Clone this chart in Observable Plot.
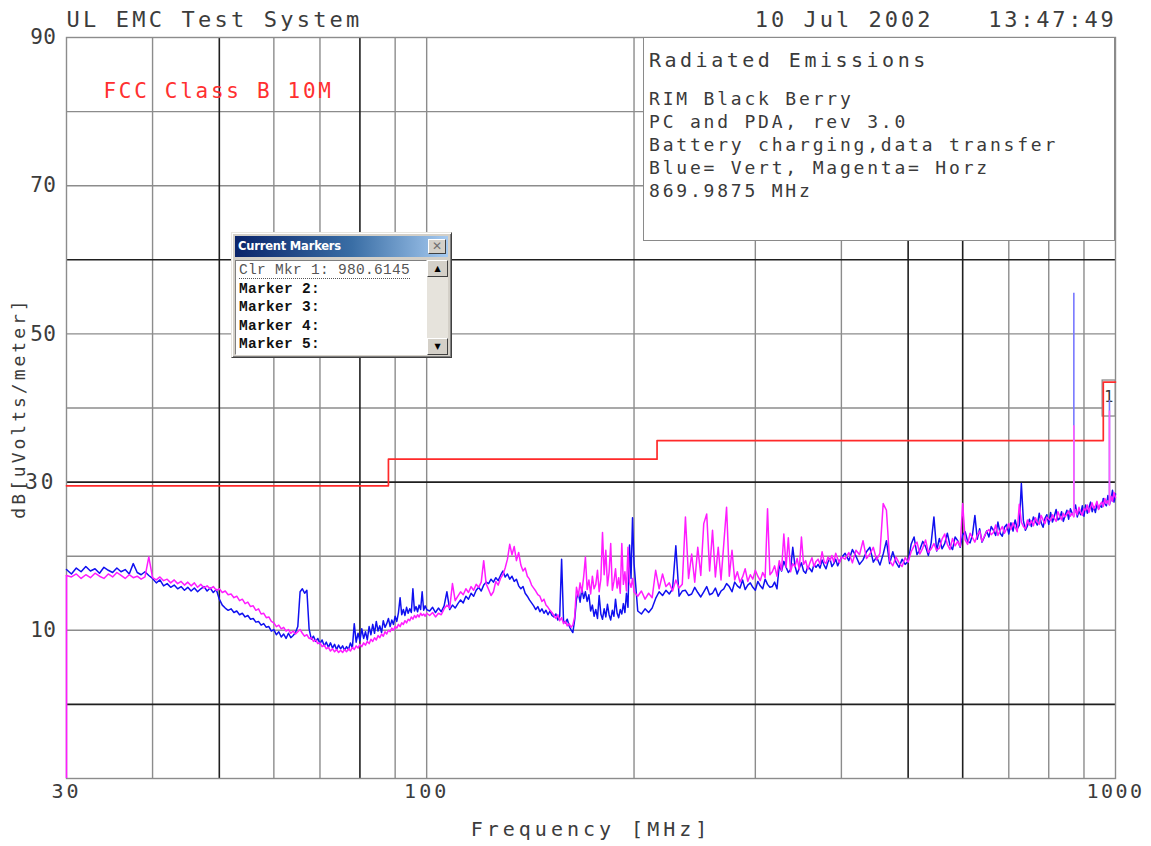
<!DOCTYPE html>
<html>
<head>
<meta charset="utf-8">
<script src="https://cdn.jsdelivr.net/npm/d3@7"></script>
<script src="https://cdn.jsdelivr.net/npm/@observablehq/plot@0.6"></script>
<style>
  html, body { margin: 0; padding: 0; background: #fff; }
  #wrap { position: relative; width: 1151px; height: 846px; overflow: hidden; background: #fff; }
  #chart { position: absolute; left: 0; top: 0; }
  .mono { font-family: "DejaVu Sans Mono", monospace; color: #3a3a3a; }
  #info { position: absolute; left: 643px; top: 37px; width: 472px; height: 204px;
          border: 1.4px solid #8a8a8a; background: #fff; box-sizing: border-box; }
  #info div { position: absolute; left: 5px; white-space: pre; line-height: 1; }
  #info .head { font-size: 20px; letter-spacing: 3.5px; }
  #info .ln { font-size: 18px; letter-spacing: 2.8px; }
  #mk { position: absolute; left: 231px; top: 232px; width: 221px; height: 126px; box-sizing: border-box;
        background: #d4d0c8; border: 1px solid; border-color: #e8e6e0 #404040 #404040 #e8e6e0;
        box-shadow: inset 1px 1px 0 #fff, inset -1px -1px 0 #808080; }
  #mk .tb { position: absolute; left: 3px; top: 3px; width: 213px; height: 21px;
            background: linear-gradient(to right, #0a246a, #3a6ea5 55%, #a6caf0); }
  #mk .tb span { position: absolute; left: 3px; top: 3px; font: bold 11.5px "DejaVu Sans", sans-serif; color: #fff; letter-spacing: -0.2px; }
  #mk .cls { position: absolute; right: 2px; top: 3px; width: 18px; height: 15px; background: #d4d0c8; box-sizing: border-box;
             border: 1px solid; border-color: #fff #404040 #404040 #fff; font: bold 12px "DejaVu Sans", sans-serif;
             color: #707070; text-align: center; line-height: 13px; }
  #mk .list { position: absolute; left: 3px; top: 27px; width: 192px; height: 95px; background: #fff; box-sizing: border-box;
              border: 1px solid; border-color: #808080 #fff #fff #808080; }
  #mk .row { position: absolute; left: 3px; font: bold 14.5px "Liberation Mono", monospace; color: #111; white-space: pre; line-height: 1; letter-spacing: 0.3px; }
  #mk .row.sel { font-weight: normal; color: #555; border-bottom: 1px dotted #555; }
  #mk .sb { position: absolute; left: 195px; top: 27px; width: 21px; height: 95px; background: #e6e3dc; }
  #mk .btn { position: absolute; left: 0; width: 21px; height: 17px; background: #d4d0c8; box-sizing: border-box;
             border: 1px solid; border-color: #fff #404040 #404040 #fff; font: 8px "DejaVu Sans", sans-serif; color: #000;
             text-align: center; line-height: 15px; }
</style>
</head>
<body>
<div id="wrap">
  <div id="chart"></div>
</div>
<script>
// ---------------- data ----------------
// sweep frequency grids of the receiver (MHz)
const sweepA = d3.range(30, 100.001, 0.5);    // 141 points
const sweepB = d3.range(101, 200.001, 1);     // 100 points
const sweepC = d3.range(202.5, 400.001, 2.5); // 80 points
const sweepD = d3.range(405, 1000.001, 5);    // 120 points

// Vertical polarisation (blue), dBuV/m
const vertA = [
  18.2,17.6,18.4,17.9,18.6,18.0,18.3,17.7,18.5,18.1,17.8,18.4,17.9,18.2,17.6,19.0,17.8,17.5,17.9,17.4,
  17.0,16.4,16.8,16.0,16.3,15.8,16.1,15.6,15.9,15.4,15.8,15.3,15.7,15.2,15.6,15.9,15.3,15.7,15.1,15.5,
  14.2,13.4,13.0,12.7,12.9,12.4,12.6,12.1,12.3,11.8,12.0,11.5,11.6,11.1,11.2,10.7,10.9,10.4,10.5,9.9,
  10.1,9.4,9.8,9.1,9.5,8.9,9.6,9.0,9.3,9.7,10.5,15.2,15.6,15.0,15.4,10.2,8.8,9.2,8.5,8.9,
  8.2,8.7,7.9,8.4,7.7,8.3,7.6,8.1,7.4,8.0,7.5,7.9,7.3,7.8,7.4,8.3,7.6,10.9,8.4,9.6,
  8.6,10.2,8.9,9.8,8.7,10.5,9.4,10.8,9.6,11.2,9.9,10.6,9.7,11.3,10.4,10.9,11.6,10.5,11.4,10.8,
  11.9,11.2,12.4,14.4,12.1,12.8,12.0,13.1,12.3,12.9,12.4,15.6,12.6,13.2,12.5,13.4,12.8,15.2,12.7,13.3,
  12.8
];
const vertB = [
  12.6,13.1,12.4,13.0,12.5,13.3,15.2,12.8,13.4,13.0,
  13.6,14.1,13.7,14.6,14.2,15.0,14.6,15.4,15.8,15.3,16.1,16.5,
  16.3,16.9,16.5,17.1,16.7,17.4,18.0,17.2,17.6,16.9,17.3,16.6,16.9,
  16.0,15.6,15.9,15.0,14.6,14.1,13.7,
  13.3,12.8,13.2,12.5,12.9,12.3,12.7,12.1,12.6,12.0,
  11.8,12.2,11.4,11.9,19.6,11.3,11.0,11.5,10.6,10.1,9.7,11.4,
  14.2,15.1,13.8,15.6,14.3,15.2,13.9,14.8,
  12.6,13.4,11.9,12.8,11.6,14.7,12.2,11.5,12.9,11.8,13.5,12.1,11.4,12.7,11.9,14.2,12.3,11.7,12.8,12.2,13.6,12.4,15.0,13.1,
  21.5,17.0,25.2,19.0
];
const vertC = [
  12.6,12.2,12.9,12.4,13.0,
  14.3,15.2,14.7,15.4,14.9,15.6,21.4,14.6,15.3,
  15.4,14.7,14.9,15.8,15.1,14.5,15.2,15.9,14.8,15.0,15.7,14.6,15.3,
  15.6,16.3,15.9,15.2,16.5,16.0,15.7,16.8,15.5,16.1,16.4,15.8,15.4,16.6,16.0,15.6,16.9,16.2,15.8,
  15.9,16.5,15.6,18.8,18.0,19.3,18.5,17.8,18.2,21.2,18.7,17.6,18.4,19.1,18.0,17.7,18.6,18.3,17.9,18.9,18.5,
  18.9,18.4,19.5,18.8,18.3,19.2,19.7,18.6,19.0,19.6,18.7,19.3,19.8
];
const vertD = [
  20.4,19.4,20.9,20.0,18.9,19.5,20.6,21.2,19.2,19.9,
  18.8,20.3,22.1,19.0,20.6,19.2,18.5,19.6,18.9,19.3,
  21.6,22.6,20.2,20.9,22.0,21.3,20.1,21.8,25.3,20.7,
  22.4,21.0,21.7,23.1,21.5,20.9,22.6,22.1,21.2,22.9,
  23.3,22.0,21.8,22.9,25.5,22.3,23.7,21.9,22.6,23.4,
  22.6,24.0,23.5,22.8,24.6,23.1,22.7,23.9,24.3,23.0,
  24.5,23.4,24.9,23.7,24.2,29.8,24.8,23.5,24.1,25.0,
  24.0,25.3,24.7,24.2,25.8,24.5,23.9,25.1,25.6,24.3,
  25.9,24.6,25.4,26.3,24.9,25.1,26.0,24.7,25.5,26.2,
  25.0,26.4,25.8,25.5,26.9,25.3,26.1,25.6,26.8,25.4,
  26.9,25.8,26.5,27.3,26.0,26.7,25.9,27.1,26.4,26.8,
  26.6,27.8,27.1,26.8,28.2,27.0,27.6,28.9,27.3,28.4
];

// Horizontal polarisation (magenta), dBuV/m
const horzA = [
  17.4,17.2,17.6,17.0,17.5,17.1,17.7,17.3,17.0,17.6,17.2,17.8,17.4,17.0,17.5,17.1,17.3,16.9,17.2,19.9,
  17.1,16.8,17.2,16.7,16.9,16.4,16.8,16.3,16.6,16.1,16.5,16.0,16.4,15.8,16.2,15.7,16.0,15.6,15.9,15.4,
  15.6,15.1,15.3,14.8,14.9,14.4,14.6,14.0,14.2,13.6,13.8,13.2,13.3,12.7,12.9,12.2,12.3,11.7,11.8,11.2,
  11.0,10.5,10.7,10.2,10.4,9.9,10.1,9.6,9.9,9.5,9.8,10.1,9.6,9.2,9.4,8.9,9.0,8.5,8.7,8.2,
  8.3,7.8,8.0,7.5,7.7,7.2,7.5,7.1,7.4,7.0,7.3,7.0,7.4,7.1,7.5,7.2,7.7,7.4,7.9,7.6,
  8.1,7.8,8.3,8.0,8.5,8.2,8.8,8.5,9.0,8.7,9.3,9.0,9.5,9.2,9.8,9.5,10.0,9.8,10.3,10.0,
  10.5,10.3,10.8,10.5,11.0,10.8,11.3,11.0,11.5,11.3,11.8,11.5,12.0,11.7,12.1,11.8,12.3,12.0,12.2,11.9,
  12.3
];
const horzB = [
  12.0,12.4,11.8,12.3,12.1,12.9,13.4,13.0,16.3,14.0,
  14.6,15.2,14.8,15.6,15.1,15.9,15.4,16.2,15.8,16.5,19.4,16.3,
  15.5,14.7,15.2,16.6,16.1,17.0,17.5,18.4,19.6,
  21.6,20.2,21.3,19.4,20.5,
  18.8,18.0,18.4,17.3,16.9,16.1,15.7,15.3,14.8,
  14.6,13.9,14.2,13.4,13.1,12.7,12.4,
  12.0,11.6,12.1,11.3,11.7,10.9,11.2,10.6,10.9,10.4,10.7,11.8,
  15.8,14.6,16.4,15.1,17.2,19.9,15.5,16.8,14.9,17.3,
  15.6,16.2,18.1,15.2,16.9,23.2,17.5,20.8,16.0,17.8,
  21.7,15.4,16.6,18.3,15.7,17.1,15.0,21.7,16.2,17.9,
  15.3,21.2,16.5,15.8,17.0,15.2
];
const horzC = [
  14.6,15.3,14.2,15.0,14.4,
  18.1,15.6,17.6,15.9,16.4,15.3,16.8,15.7,16.2,
  25.3,17.0,20.3,16.5,21.2,17.4,24.4,25.7,18.0,23.5,17.2,21.2,16.8,
  21.7,26.6,17.3,20.8,16.8,17.9,16.5,17.2,18.3,16.6,17.5,16.9,18.1,17.3,16.7,17.8,17.1,26.4,17.5,
  17.9,18.7,17.3,19.4,18.1,23.0,18.5,22.5,17.9,19.0,18.6,19.7,18.2,22.6,18.9,19.4,18.2,19.1,19.8,18.6,19.3,
  19.6,18.9,20.6,19.3,19.0,19.9,19.4,20.1,19.2,20.4,19.7,19.1,19.9
];
const horzD = [
  19.6,20.5,19.1,20.8,20.2,22.1,19.7,20.3,21.2,19.5,
  20.4,27.1,26.2,19.4,18.7,19.9,19.1,18.6,19.8,19.2,
  20.6,21.4,21.9,20.3,21.1,22.2,20.5,21.0,21.7,20.8,
  21.1,22.3,23.0,21.6,20.9,22.4,21.4,22.0,21.3,27.1,
  22.2,21.6,23.1,22.5,21.9,22.8,23.4,22.0,22.7,23.3,
  23.6,22.9,23.2,24.2,22.8,23.5,24.0,23.1,23.7,24.4,
  23.6,24.5,23.9,23.3,27.0,24.6,24.0,23.7,24.9,24.2,
  24.8,24.1,25.2,24.6,24.3,25.5,24.9,24.4,25.3,25.0,
  24.8,25.6,25.1,24.7,26.0,25.4,24.9,25.8,25.3,25.7,
  26.1,25.4,25.8,25.3,26.3,25.6,26.6,25.9,25.5,26.4,
  26.2,26.9,25.9,26.6,27.2,26.4,26.8,27.4,26.3,27.0,
  27.3,26.7,27.8,27.1,27.5,26.9,28.1,27.4,28.6,27.9
];

// narrow spikes: [MHz, from dB, to dB]
const vertSpikes = [[870, 25.5, 55.5], [980, 27.0, 41.0]];
const horzSpikes = [[870, 25.3, 37.6], [980, 26.9, 39.6]];
const horzStart  = [[30, -10, 17.4]];

// FCC Class B (10 m) limit
const limitFreq  = [30, 88, 216, 960, 1000];
const limitLevel = [29.5, 33.1, 35.6, 43.5, 43.5];

// marker
const markerFreq  = [980.6145];
const markerLevel = [40.2];
const markerName  = ["1"];

// grid & tick labels
const gridFreq      = [40, 50, 60, 70, 80, 90, 100, 200, 300, 400, 500, 600, 700, 800, 900];
const darkGridFreq  = [50, 80, 500, 600];
const gridLevel     = [0, 10, 20, 30, 40, 50, 60, 70, 80];
const darkGridLevel = [0, 30, 60];
const xTickLabels   = [30, 100, 1000];
const yTickLabels   = [10, 30, 50, 70, 90];

const infoLines = ["RIM Black Berry", "PC and PDA, rev 3.0", "Battery charging,data transfer",
                   "Blue= Vert, Magenta= Horz", "869.9875 MHz"];
const markerRows = ["Marker 2:", "Marker 3:", "Marker 4:", "Marker 5:"];

// ---------------- build ----------------
function zip(freqs, levels) {
  const n = Math.min(freqs.length, levels.length);
  const out = [];
  for (let i = 0; i < n; i++) out.push({f: freqs[i], v: levels[i]});
  return out;
}
const vert = [...zip(sweepA, vertA), ...zip(sweepB, vertB), ...zip(sweepC, vertC), ...zip(sweepD, vertD)];
const horz = [...zip(sweepA, horzA), ...zip(sweepB, horzB), ...zip(sweepC, horzC), ...zip(sweepD, horzD)];
const limit = limitFreq.map((f, i) => ({f, v: limitLevel[i]}));
const markers = markerFreq.map((f, i) => ({f, v: markerLevel[i], name: markerName[i]}));

const FONT = "'DejaVu Sans Mono', monospace";
const BLUE = "#1010f0", MAG = "#ff1cff", INK = "#3c3c3c";

const chart = Plot.plot({
  width: 1151, height: 846,
  marginTop: 37, marginRight: 36, marginBottom: 68, marginLeft: 66,
  x: {type: "log", domain: [30, 1000], axis: null},
  y: {domain: [-10, 90], axis: null},
  style: {fontFamily: FONT, background: "#fff", overflow: "visible"},
  marks: [
    Plot.ruleX(gridFreq.filter(d => !darkGridFreq.includes(d)), {x: d => d, stroke: "#8c8c8c", strokeWidth: 1.4}),
    Plot.ruleY(gridLevel.filter(d => !darkGridLevel.includes(d)), {y: d => d, stroke: "#8c8c8c", strokeWidth: 1.4}),
    Plot.ruleX(darkGridFreq, {x: d => d, stroke: "#1f1f1f", strokeWidth: 1.6}),
    Plot.ruleY(darkGridLevel, {y: d => d, stroke: "#1f1f1f", strokeWidth: 1.6}),
    Plot.frame({stroke: "#8c8c8c", strokeWidth: 1.4}),
    Plot.rect(markers, {x1: "f", x2: "f", y1: "v", y2: "v", insetLeft: -7, insetRight: -6, insetTop: -26, insetBottom: -10,
                        fill: "#fff", stroke: "#8a8a8a", strokeWidth: 1.3}),
    Plot.text(markers, {x: "f", y: "v", text: "name", dy: -9, dx: -1, fontSize: 15, fill: "#333"}),
    Plot.line(limit, {x: "f", y: "v", curve: "step-after", stroke: "#ff2a2a", strokeWidth: 1.7}),
    Plot.line(vert, {x: "f", y: "v", stroke: BLUE, strokeWidth: 1.5, strokeLinejoin: "round"}),
    Plot.line(horz, {x: "f", y: "v", stroke: MAG, strokeWidth: 1.5, strokeLinejoin: "round"}),
    Plot.ruleX(vertSpikes, {x: d => d[0], y1: d => d[1], y2: d => d[2], stroke: "#7878ff", strokeWidth: 1.6}),
    Plot.ruleX(horzSpikes, {x: d => d[0], y1: d => d[1], y2: d => d[2], stroke: "#ff5cff", strokeWidth: 1.6}),
    Plot.ruleX(horzStart, {x: d => d[0], y1: d => d[1], y2: d => d[2], stroke: MAG, strokeWidth: 1.6}),
    // axis tick labels and annotations
    Plot.text(yTickLabels, {y: d => d, frameAnchor: "left", dx: -10, textAnchor: "end", lineAnchor: "middle",
                            text: d => String(d), fontSize: 21, fill: INK}),
    Plot.text(xTickLabels, {x: d => d, frameAnchor: "bottom", dy: 13, textAnchor: "middle", lineAnchor: "middle",
                            text: d => String(d), fontSize: 20, fill: INK}),
    Plot.text(["dB[uVolts/meter]"], {frameAnchor: "left", dx: -47, rotate: -90, textAnchor: "middle", lineAnchor: "middle",
                                     fontSize: 18, fill: INK}),
    Plot.text(["Frequency [MHz]"], {frameAnchor: "bottom", dy: 51, textAnchor: "middle", lineAnchor: "middle",
                                    fontSize: 20, fill: INK}),
    Plot.text(["UL EMC Test System"], {frameAnchor: "top-left", dy: -18, textAnchor: "start", lineAnchor: "middle",
                                       fontSize: 22, fill: INK}),
    Plot.text(["13:47:49"], {frameAnchor: "top-right", dy: -18, dx: 1, textAnchor: "end", lineAnchor: "middle",
                             fontSize: 22, fill: INK}),
    Plot.text(["10 Jul 2002"], {frameAnchor: "top-right", dy: -18, dx: -182, textAnchor: "end", lineAnchor: "middle",
                                fontSize: 22, fill: INK}),
    Plot.text(["FCC Class B 10M"], {frameAnchor: "top-left", dx: 37, dy: 54, textAnchor: "start", lineAnchor: "middle",
                                    fontSize: 21, fill: "#ff3030"})
  ]
});
// letter spacing to mimic the wide plotter font
const spacing = {"UL EMC Test System": 3.2, "13:47:49": 2.8, "10 Jul 2002": 3.0, "FCC Class B 10M": 2.7,
                 "Frequency [MHz]": 4.0, "dB[uVolts/meter]": 3.0, "30": 3.0, "100": 3.0, "1000": 2.5,
                 "10": 0.5, "50": 0.5, "70": 0.5, "90": 0.5};
d3.select(chart).selectAll("text").each(function () {
  const t = this.textContent;
  if (spacing[t] !== undefined) this.setAttribute("letter-spacing", spacing[t]);
});
document.getElementById("chart").appendChild(chart);

// info box
const wrap = document.getElementById("wrap");
const info = document.createElement("div");
info.id = "info"; info.className = "mono";
const head = document.createElement("div");
head.className = "head"; head.style.top = "12px"; head.textContent = "Radiated Emissions";
info.appendChild(head);
infoLines.forEach((t, i) => {
  const d = document.createElement("div");
  d.className = "ln"; d.style.top = (52 + i * 23) + "px"; d.textContent = t;
  info.appendChild(d);
});
wrap.appendChild(info);

// marker window
const mk = document.createElement("div");
mk.id = "mk";
mk.innerHTML = '<div class="tb"><span>Current Markers</span><div class="cls">\u2715</div></div>' +
  '<div class="list"></div><div class="sb"><div class="btn" style="top:0">\u25B2</div><div class="btn" style="bottom:0">\u25BC</div></div>';
const list = mk.querySelector(".list");
const rows = ["Clr Mkr " + markerName[0] + ": " + markerFreq[0].toFixed(4), ...markerRows];
rows.forEach((t, i) => {
  const r = document.createElement("div");
  r.className = "row" + (i === 0 ? " sel" : "");
  r.style.top = (2 + i * 18.6) + "px";
  r.textContent = t;
  list.appendChild(r);
});
wrap.appendChild(mk);
</script>
</body>
</html>
